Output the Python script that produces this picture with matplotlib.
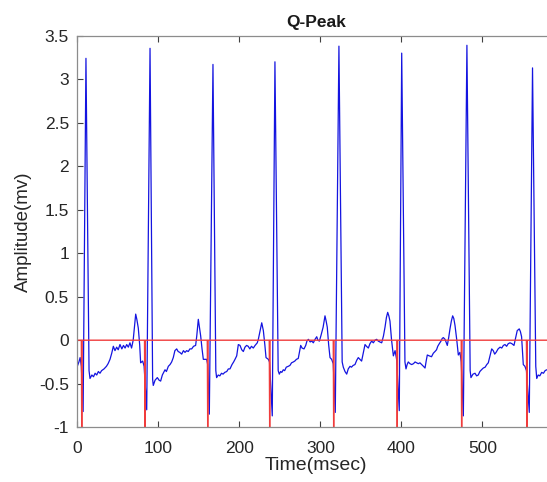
import matplotlib
matplotlib.use('Agg')
import matplotlib.pyplot as plt
from matplotlib.ticker import FormatStrFormatter
import numpy as np

plt.rcParams['font.family'] = ['Liberation Sans', 'DejaVu Sans']

# ECG trace (time in msec, amplitude in mv)
ecg_time = [
    0, 2, 3.5, 5, 7.2, 10.7, 14.5, 15.7, 18, 20, 22, 24, 26, 28, 30, 33, 36, 38, 40.4, 42.5,
    44.5, 46.5, 48.6, 50.5, 52.7, 55, 57, 59, 61, 63, 65, 67, 69, 70.5, 72.1, 73.5, 75.3, 77,
    78.2, 80.7, 82.5,
    85.7, 89.8, 93, 93.8, 96, 98.8, 101, 102.9, 105, 108.3, 110, 112.4, 114.5, 116.5, 118.5,
    120.5, 122.7, 124.5, 126.5, 128.9, 131, 133, 135, 137, 139, 141.2, 143.5, 146.1, 147.5,
    149.4, 150.8, 152.3, 154, 155.6, 159.7, 161,
    163, 167.5, 171, 172, 174, 176, 178, 180, 182, 184.5, 186.5, 188.5, 191, 193, 194.7,
    196.8, 198.8, 200.9, 203, 205, 207, 209, 211, 213, 215, 217.3, 219.5, 222.2, 223.5, 225.5,
    227.7, 229.7, 231.5, 233, 235.9, 237.3,
    240.7, 244, 248, 249.4, 251, 252.5, 254.3, 256, 258, 260.5, 262.5, 264.5, 266.7, 268.5,
    270.5, 272.8, 274, 275.8, 277.5, 279.9, 282, 283.5, 285.3, 287.5, 289.5, 291.4, 293.5,
    295.6, 297, 298.9, 301, 303.5, 305.8, 307.2, 308.6, 310.3, 312, 314, 316,
    318.5, 323, 327, 328.4, 330.5, 332.6, 334.5, 336.7, 338.5, 340.5, 342.8, 345, 346.9, 349,
    351, 353, 355.2, 357, 359.3, 361.3, 363.4, 365.5, 367.5, 369.6, 371.5, 373.5, 375.8, 378,
    379.9, 381.6, 383.2, 384.6, 386, 388, 390.2, 392.3, 394.2,
    397.5, 400.5, 404.5, 405.8, 407.2, 408.6, 410.7, 412.8, 415, 417, 419, 421, 423, 425.2,
    427.3, 429.3, 430.7, 432.1, 434.5, 437.3, 439.5, 441.6, 443.5, 445, 446.9, 449, 450.5,
    451.9, 454, 456.8, 458.5, 460.1, 461.8, 463.4, 464.8, 466.3, 468.5, 470.4, 472.4, 474,
    476.6, 481, 485, 486, 488.5, 491, 493, 495, 497, 499, 501.2, 503.5, 505.5, 507.4, 509.5,
    511.6, 513.5, 515.3, 517, 519.5, 521.9, 524, 526, 528, 530, 532, 534.2, 536.5, 539.1, 541,
    543.1, 545.6, 547, 548.5, 550.6, 552.6, 554.5,
    558, 562, 566, 567.2, 569, 571, 573.3, 575.5, 577.5, 579.5, 582, 585, 590,
]
ecg_amp = [
    -0.30, -0.25, -0.20, -0.30, -0.82, 3.24, -0.35, -0.44, -0.40, -0.42, -0.38, -0.40, -0.36,
    -0.38, -0.35, -0.33, -0.30, -0.27, -0.22, -0.15, -0.07, -0.12, -0.08, -0.11, -0.05, -0.10,
    -0.06, -0.09, -0.05, -0.08, -0.03, -0.09, 0.00, 0.15, 0.30, 0.24, 0.14, -0.05, -0.26,
    -0.24, -0.30,
    -0.80, 3.355, -0.45, -0.52, -0.46, -0.43, -0.46, -0.47, -0.40, -0.34, -0.36, -0.30, -0.28,
    -0.25, -0.20, -0.12, -0.10, -0.13, -0.14, -0.16, -0.12, -0.14, -0.12, -0.13, -0.10, -0.10,
    -0.07, -0.06, 0.05, 0.24, 0.15, 0.05, -0.10, -0.22, -0.22, -0.28,
    -0.85, 3.17, -0.35, -0.43, -0.40, -0.41, -0.38, -0.39, -0.37, -0.36, -0.33, -0.33, -0.28,
    -0.25, -0.22, -0.18, -0.05, -0.06, -0.11, -0.13, -0.08, -0.06, -0.07, -0.10, -0.07, -0.09,
    -0.06, -0.03, 0.01, 0.10, 0.20, 0.11, -0.05, -0.20, -0.22, -0.25,
    -0.87, 3.20, -0.35, -0.39, -0.36, -0.37, -0.34, -0.35, -0.31, -0.30, -0.29, -0.26, -0.25,
    -0.24, -0.22, -0.21, -0.15, -0.06, -0.09, -0.10, -0.06, -0.01, 0.01, -0.02, -0.01, -0.03,
    0.01, 0.04, 0.00, -0.01, 0.06, 0.15, 0.28, 0.22, 0.15, -0.05, -0.20, -0.22, -0.27,
    -0.83, 3.38, -0.25, -0.31, -0.36, -0.39, -0.33, -0.30, -0.31, -0.29, -0.28, -0.23, -0.20,
    -0.22, -0.24, -0.15, -0.05, -0.07, -0.09, -0.04, -0.01, -0.03, 0.00, 0.01, -0.01, -0.02,
    -0.03, 0.05, 0.15, 0.26, 0.32, 0.28, 0.22, 0.00, -0.18, -0.12, -0.22,
    -0.81, 3.30, -0.25, -0.33, -0.28, -0.25, -0.27, -0.28, -0.27, -0.25, -0.26, -0.27, -0.26,
    -0.28, -0.30, -0.32, -0.24, -0.17, -0.18, -0.19, -0.15, -0.13, -0.11, -0.07, -0.04, -0.01,
    0.02, 0.03, 0.01, -0.06, 0.03, 0.13, 0.22, 0.28, 0.25, 0.17, 0.00, -0.17, -0.14, -0.25,
    -0.87, 3.39, -0.35, -0.43, -0.39, -0.38, -0.41, -0.40, -0.36, -0.34, -0.32, -0.31, -0.28,
    -0.26, -0.18, -0.10, -0.12, -0.16, -0.14, -0.10, -0.08, -0.09, -0.06, -0.05, -0.07, -0.04,
    -0.03, -0.04, -0.06, 0.02, 0.11, 0.13, 0.10, 0.04, -0.28, -0.30, -0.35,
    -0.83, 3.13, -0.30, -0.44, -0.40, -0.41, -0.37, -0.38, -0.35, -0.34, -0.35, -0.33, -0.32,
]

# detected Q-peak locations (msec), marked as drops to -1 on the zero line
q_times = [5.5, 83.5, 161, 237.5, 316.5, 395, 474.5, 555]
q_level = -1

x_max = 590

# build the red marker trace: zero everywhere, -1 at each Q location
red_x = [0]
red_y = [0]
for q in q_times:
    red_x += [q - 0.5, q, q + 0.5]
    red_y += [0, q_level, 0]
red_x.append(x_max)
red_y.append(0)

fig = plt.figure(figsize=(5.47, 4.82), dpi=100)
ax = fig.add_axes([0.1413, 0.1137, 0.8737, 0.8122])

ax.plot(ecg_time, ecg_amp, color='#1414e0', linewidth=0.9)
ax.plot(red_x, red_y, color='#f03c3c', linewidth=1.0)

ax.set_xlim(0, x_max)
ax.set_ylim(-1, 3.5)
ax.set_xticks(np.arange(0, 600, 100))
ax.set_yticks(np.arange(-1, 3.51, 0.5))
ax.yaxis.set_major_formatter(FormatStrFormatter('%g'))

for s in ax.spines.values():
    s.set_color('#8c8c8c')
    s.set_linewidth(0.9)
ax.tick_params(direction='in', top=True, right=True, length=4, width=0.8,
               color='#404040', labelsize=12.5, labelcolor='#262626')
ax.tick_params(axis='x', pad=10)
ax.tick_params(axis='y', pad=6)

ax.set_title('Q-Peak', fontsize=12.5, fontweight='bold', color='#1a1a1a', pad=6)
ax.set_xlabel('Time(msec)', fontsize=14, color='#262626', labelpad=1)
ax.set_ylabel('Amplitude(mv)', fontsize=13.5, color='#262626', labelpad=5)

fig.savefig('out.png', dpi=100)
